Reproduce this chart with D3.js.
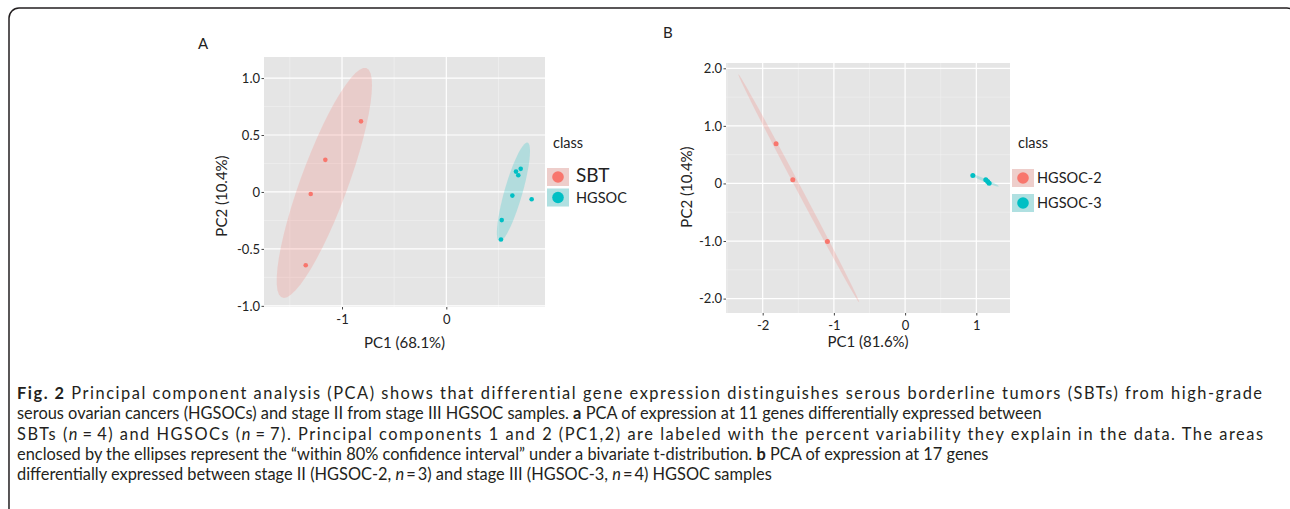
<!DOCTYPE html>
<html>
<head>
<meta charset="utf-8">
<script src="https://cdn.jsdelivr.net/npm/d3@7/dist/d3.min.js"></script>
<style>
  body { margin: 0; background: #fff; }
  svg text { font-family: Lato, "Open Sans", sans-serif; fill: #222; }
  .caption text { font-family: Lato, sans-serif; fill: #231f20; }
</style>
</head>
<body>
<svg id="fig" width="1290" height="509"></svg>
<script>
// ---- data ----
// panel A : SBT vs HGSOC
var classesA = ["SBT", "HGSOC"];
var sbtPC1 = [-0.818, -1.160, -1.300, -1.348];
var sbtPC2 = [0.620, 0.282, -0.018, -0.644];
var hgsocPC1 = [0.713, 0.668, 0.690, 0.633, 0.818, 0.531, 0.524];
var hgsocPC2 = [0.203, 0.179, 0.147, -0.032, -0.064, -0.247, -0.417];
var xDomainA = [-1.748, 0.946], yDomainA = [-1.01, 1.185];
var xTicksA = [-1, 0], xTickLabelsA = ["-1", "0"];
var yTicksA = [-1, -0.5, 0, 0.5, 1], yTickLabelsA = ["-1.0", "-0.5", "0", "0.5", "1.0"];

// panel B : stage II vs stage III HGSOC
var classesB = ["HGSOC-2", "HGSOC-3"];
var hg2PC1 = [-1.812, -1.577, -1.091];
var hg2PC2 = [0.689, 0.064, -1.007];
var hg3PC1 = [0.951, 1.133, 1.159, 1.180];
var hg3PC2 = [0.139, 0.064, 0.035, 0.005];
var xDomainB = [-2.515, 1.473], yDomainB = [-2.25, 2.092];
var xTicksB = [-2, -1, 0, 1], xTickLabelsB = ["-2", "-1", "0", "1"];
var yTicksB = [-2, -1, 0, 1, 2], yTickLabelsB = ["-2.0", "-1.0", "0", "1.0", "2.0"];

var classColors = ["#F8766D", "#00BFC4"];
var level = 0.8;

var captionLines = [
  [["Fig. 2", "b"], [" Principal component analysis (PCA) shows that differential gene expression distinguishes serous borderline tumors (SBTs) from high-grade"]],
  [["serous ovarian cancers (HGSOCs) and stage II from stage III HGSOC samples. "], ["a", "b"], [" PCA of expression at 11 genes differentially expressed between"]],
  [["SBTs ("], ["n", "i"], ["\u2009=\u20094) and HGSOCs ("], ["n", "i"], ["\u2009=\u20097). Principal components 1 and 2 (PC1,2) are labeled with the percent variability they explain in the data. The areas"]],
  [["enclosed by the ellipses represent the \u201cwithin 80% confidence interval\u201d under a bivariate t-distribution. "], ["b", "b"], [" PCA of expression at 17 genes"]],
  [["differentially expressed between stage II (HGSOC-2, "], ["n", "i"], ["\u2009=\u20093) and stage III (HGSOC-3, "], ["n", "i"], ["\u2009=\u20094) HGSOC samples"]]
];
// lines 1 and 3 run to the right margin in the print; line 2 ends at "between"
var captionJustify = [1262, 0, 1263, 0, 0];
var captionLine2End = 1166;

var svg = d3.select("#fig");
svg.append("rect").attr("width", 1290).attr("height", 509).attr("fill", "#fff");

// figure frame (rounded, runs off right and bottom)
svg.append("rect")
  .attr("x", 9).attr("y", 8).attr("width", 1288).attr("height", 540)
  .attr("rx", 10).attr("ry", 10)
  .attr("fill", "none").attr("stroke", "#231f20").attr("stroke-width", 1.5);

// robust t covariance, same steps as MASS::cov.trob (nu = 5)
function covTrob(pts) {
  var nu = 5, p = 2, n = pts.length;
  var loc = [d3.mean(pts, d => d[0]), d3.mean(pts, d => d[1])];
  var w = pts.map(() => 1), X;
  for (var iter = 0; iter < 25; iter++) {
    var w0 = w.slice();
    X = pts.map(d => [d[0] - loc[0], d[1] - loc[1]]);
    var sw = d3.sum(w);
    var a = 0, b = 0, c = 0;
    X.forEach(function(v, i) { a += w[i]*v[0]*v[0]/sw; b += w[i]*v[0]*v[1]/sw; c += w[i]*v[1]*v[1]/sw; });
    var det = a*c - b*b;
    w = X.map(v => (nu + p) / (nu + (c*v[0]*v[0] - 2*b*v[0]*v[1] + a*v[1]*v[1]) / det));
    var sw2 = d3.sum(w);
    loc = [d3.sum(pts, (d, i) => w[i]*d[0]) / sw2, d3.sum(pts, (d, i) => w[i]*d[1]) / sw2];
    if (w.every((v, i) => Math.abs(v - w0[i]) < 0.01)) break;
  }
  var cov = [0, 0, 0];
  X.forEach(function(v, i) { cov[0] += w[i]*v[0]*v[0]/n; cov[1] += w[i]*v[0]*v[1]/n; cov[2] += w[i]*v[1]*v[1]/n; });
  return { center: loc, cov: cov };
}

// stat_ellipse(type = "t") outline
function ellipsePts(xs, ys) {
  var pts = xs.map((x, i) => [x, ys[i]]);
  var t = covTrob(pts);
  var dfd = pts.length - 1;
  var qf = dfd / 2 * (Math.pow(1 - level, -2 / dfd) - 1);   // qf(level, 2, dfd)
  var radius = Math.sqrt(2 * qf);
  var r11 = Math.sqrt(t.cov[0]), r12 = t.cov[1] / r11, r22 = Math.sqrt(t.cov[2] - r12*r12);
  return d3.range(52).map(function(k) {
    var ang = k * 2 * Math.PI / 51, cs = Math.cos(ang), sn = Math.sin(ang);
    return [t.center[0] + radius*cs*r11, t.center[1] + radius*(cs*r12 + sn*r22)];
  });
}

function minorBreaks(ticks, dom) {
  var step = ticks[1] - ticks[0], out = [];
  for (var v = ticks[0] - step/2; v <= dom[1]; v += step) if (v >= dom[0]) out.push(v);
  return out;
}

function drawPanel(cfg) {
  var x = d3.scaleLinear().domain(cfg.xDomain).range([cfg.left, cfg.right]);
  var y = d3.scaleLinear().domain(cfg.yDomain).range([cfg.bottom, cfg.top]);
  var g = svg.append("g");

  g.append("rect")
    .attr("x", cfg.left).attr("y", cfg.top)
    .attr("width", cfg.right - cfg.left).attr("height", cfg.bottom - cfg.top)
    .attr("fill", "#e5e5e5");

  // grid
  var minX = minorBreaks(cfg.xTicks, cfg.xDomain), minY = minorBreaks(cfg.yTicks, cfg.yDomain);
  g.selectAll(".mx").data(minX).enter().append("line")
    .attr("x1", d => x(d)).attr("x2", d => x(d)).attr("y1", cfg.top).attr("y2", cfg.bottom)
    .attr("stroke", "#f2f2f2").attr("stroke-width", 0.6);
  g.selectAll(".my").data(minY).enter().append("line")
    .attr("y1", d => y(d)).attr("y2", d => y(d)).attr("x1", cfg.left).attr("x2", cfg.right)
    .attr("stroke", "#f2f2f2").attr("stroke-width", 0.6);
  g.selectAll(".gx").data(cfg.xTicks).enter().append("line")
    .attr("x1", d => x(d)).attr("x2", d => x(d)).attr("y1", cfg.top).attr("y2", cfg.bottom)
    .attr("stroke", "#fff").attr("stroke-width", 1.2);
  g.selectAll(".gy").data(cfg.yTicks).enter().append("line")
    .attr("y1", d => y(d)).attr("y2", d => y(d)).attr("x1", cfg.left).attr("x2", cfg.right)
    .attr("stroke", "#fff").attr("stroke-width", 1.2);

  // ellipses + points
  var line = d3.line().x(d => x(d[0])).y(d => y(d[1]));
  cfg.groups.forEach(function(grp, i) {
    g.append("path")
      .attr("d", line(ellipsePts(grp.xs, grp.ys)))
      .attr("fill", classColors[i]).attr("fill-opacity", 0.22).attr("stroke", "none");
  });
  cfg.groups.forEach(function(grp, i) {
    g.selectAll(".pt" + i).data(grp.xs).enter().append("circle")
      .attr("cx", d => x(d)).attr("cy", (d, k) => y(grp.ys[k]))
      .attr("r", cfg.pointR).attr("fill", classColors[i]);
  });

  // axes
  var ax = g.append("g").attr("transform", "translate(0," + cfg.bottom + ")")
    .call(d3.axisBottom(x).tickValues(cfg.xTicks).tickSize(2.5).tickPadding(5)
      .tickFormat((d, i) => cfg.xTickLabels[i]));
  var ay = g.append("g").attr("transform", "translate(" + cfg.left + ",0)")
    .call(d3.axisLeft(y).tickValues(cfg.yTicks).tickSize(2.5).tickPadding(1.5)
      .tickFormat((d, i) => cfg.yTickLabels[i]));
  [ax, ay].forEach(function(a) {
    a.select(".domain").remove();
    a.selectAll(".tick line").attr("stroke", "#444");
    a.selectAll(".tick text").attr("font-size", 13).attr("font-family", "Lato").attr("fill", "#222");
  });

  g.append("text").attr("x", (cfg.left + cfg.right) / 2).attr("y", cfg.xTitleY)
    .attr("text-anchor", "middle").attr("font-size", 15).text(cfg.xTitle);
  g.append("text").attr("transform", "translate(" + cfg.yTitleX + "," + cfg.yTitleMid + ") rotate(-90)")
    .attr("text-anchor", "middle").attr("font-size", 15).text(cfg.yTitle);
  g.append("text").attr("x", cfg.tagX).attr("y", cfg.tagY).attr("font-size", 15).text(cfg.tag);

  // legend
  var lg = g.append("g").attr("transform", "translate(" + cfg.legX + "," + cfg.legY + ")");
  lg.append("text").attr("x", 6).attr("y", 0).attr("font-size", 14.5).text("class");
  cfg.classes.forEach(function(c, i) {
    var ky = cfg.keyY[i];
    lg.append("rect").attr("x", 0).attr("y", ky).attr("width", 22).attr("height", 18).attr("fill", "#ebebeb");
    lg.append("rect").attr("x", 0).attr("y", ky).attr("width", 22).attr("height", 18)
      .attr("fill", classColors[i]).attr("fill-opacity", 0.25);
    lg.append("circle").attr("cx", 11).attr("cy", ky + 9).attr("r", 5.8).attr("fill", classColors[i]);
    lg.append("text").attr("x", cfg.keyLabelX).attr("y", ky + 14)
      .attr("font-size", cfg.keySizes[i]).text(c);
  });
}

drawPanel({
  left: 264, right: 545, top: 57, bottom: 307,
  xDomain: xDomainA, yDomain: yDomainA,
  xTicks: xTicksA, xTickLabels: xTickLabelsA, yTicks: yTicksA, yTickLabels: yTickLabelsA,
  groups: [{ xs: sbtPC1, ys: sbtPC2 }, { xs: hgsocPC1, ys: hgsocPC2 }],
  pointR: 2.3,
  xTitle: "PC1 (68.1%)", xTitleY: 348, yTitle: "PC2 (10.4%)", yTitleX: 227, yTitleMid: 196,
  tag: "A", tagX: 198, tagY: 49,
  classes: classesA, legX: 547, legY: 148, keyY: [20, 40.5], keyLabelX: 29, keySizes: [19, 14.5]
});

drawPanel({
  left: 726, right: 1010, top: 63, bottom: 313,
  xDomain: xDomainB, yDomain: yDomainB,
  xTicks: xTicksB, xTickLabels: xTickLabelsB, yTicks: yTicksB, yTickLabels: yTickLabelsB,
  groups: [{ xs: hg2PC1, ys: hg2PC2 }, { xs: hg3PC1, ys: hg3PC2 }],
  pointR: 2.5,
  xTitle: "PC1 (81.6%)", xTitleY: 347, yTitle: "PC2 (10.4%)", yTitleX: 692, yTitleMid: 187,
  tag: "B", tagX: 663, tagY: 38,
  classes: classesB, legX: 1012, legY: 148, keyY: [21, 46], keyLabelX: 25, keySizes: [14.5, 14.5]
});

// caption: size set from line 2, lines 1 and 3 stretched with a little letter spacing
var cap = svg.append("g").attr("class", "caption");
var capNodes = captionLines.map(function(segs, li) {
  var t = cap.append("text").attr("x", 17).attr("y", 399 + li * 20.3).attr("font-size", 16);
  segs.forEach(function(s) {
    var ts = t.append("tspan").text(s[0]);
    if (s[1] === "b") ts.attr("font-weight", "bold");
    if (s[1] === "i") ts.attr("font-style", "italic");
  });
  return t;
});
var w2 = capNodes[1].node().getComputedTextLength();
var fs = Math.min(16.4, 16 * (captionLine2End - 17) / w2);
capNodes.forEach(function(t, li) {
  t.attr("font-size", fs);
  if (!captionJustify[li]) return;
  var w = t.node().getComputedTextLength();
  var chars = d3.sum(captionLines[li], s => s[0].length);
  t.attr("letter-spacing", Math.max(0, (captionJustify[li] - 17 - w) / (chars - 1)));
});
</script>
</body>
</html>
